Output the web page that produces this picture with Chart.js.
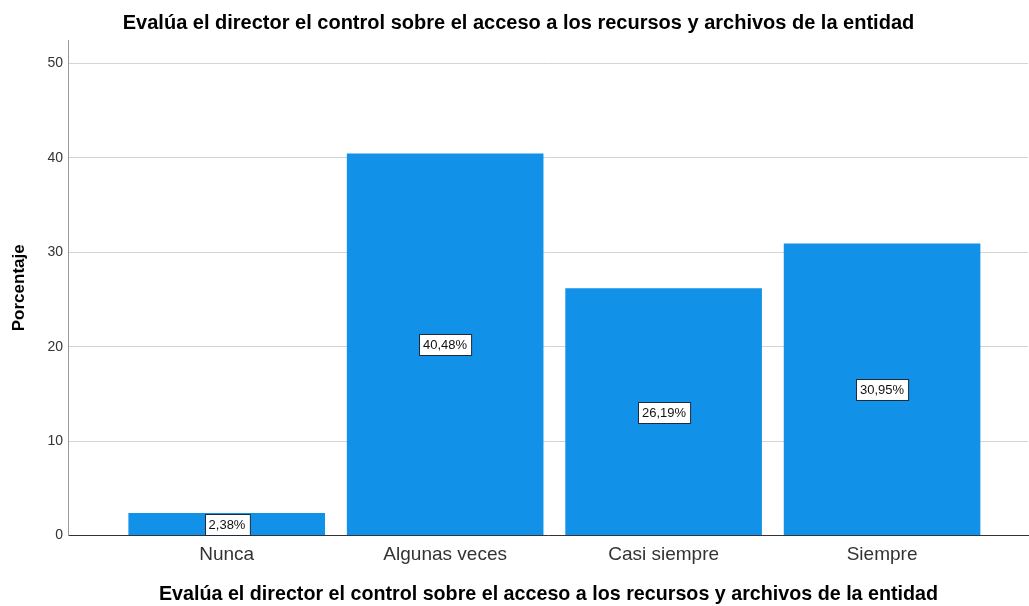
<!DOCTYPE html>
<html>
<head>
<meta charset="utf-8">
<title>Evalúa el director el control</title>
<script src="https://cdn.jsdelivr.net/npm/chart.js@4.4.1/dist/chart.umd.min.js"></script>
<style>
  body { margin: 0; background: #fff; }
  #wrap { width: 1029px; height: 606px; }
</style>
</head>
<body>
<div id="wrap"><canvas id="barChart" width="1029" height="606"></canvas></div>
<script>
// Chart data
const chartTitle = 'Evalúa el director el control sobre el acceso a los recursos y archivos de la entidad';
const categories = ['Nunca', 'Algunas veces', 'Casi siempre', 'Siempre'];
const percentages = [2.38, 40.48, 26.19, 30.95];
const yTicks = [0, 10, 20, 30, 40, 50];

const barColor = '#1192e8';
const fontFamily = '"Liberation Sans", Arial, sans-serif';

// Value labels in white boxes, centered in each bar
const boxLabels = {
    id: 'boxLabels',
    afterDatasetsDraw(chart) {
        const ctx = chart.ctx;
        const meta = chart.getDatasetMeta(0);
        ctx.save();
        ctx.font = '13px ' + fontFamily;
        ctx.textAlign = 'center';
        ctx.textBaseline = 'middle';
        meta.data.forEach((bar, i) => {
            const text = percentages[i].toFixed(2).replace('.', ',') + '%';
            const w = ctx.measureText(text).width + 8;
            const h = 21;
            const cx = Math.round(bar.x);
            const cy = Math.round((bar.y + bar.base) / 2);
            const x0 = Math.round(cx - w / 2) + 0.5;
            const y0 = Math.round(cy - h / 2) + 0.5;
            ctx.fillStyle = '#ffffff';
            ctx.fillRect(x0, y0, w, h);
            ctx.strokeStyle = '#1d2b3a';
            ctx.lineWidth = 1;
            ctx.strokeRect(x0, y0, w, h);
            ctx.fillStyle = '#111';
            ctx.fillText(text, cx, cy + 1);
        });
        ctx.restore();
    }
};

const ctx = document.getElementById('barChart').getContext('2d');
new Chart(ctx, {
    type: 'bar',
    data: {
        datasets: [{
            data: percentages.map((v, i) => ({ x: i + 1, y: v })),
            backgroundColor: barColor,
            borderWidth: 0,
            categoryPercentage: 1,
            barPercentage: 0.9
        }]
    },
    options: {
        responsive: false,
        animation: false,
        layout: { padding: { top: 9, right: 1, bottom: 0, left: 9 } },
        plugins: {
            legend: { display: false },
            tooltip: { enabled: false },
            title: {
                display: true,
                text: chartTitle,
                color: '#000',
                font: { family: fontFamily, size: 20, weight: 'bold' },
                padding: { top: 2, bottom: 5 }
            }
        },
        scales: {
            x: {
                type: 'linear',
                offset: false,
                min: 0.278,
                max: 4.668,
                afterBuildTicks: scale => {
                    scale.ticks = categories.map((c, i) => ({ value: i + 1 }));
                },
                ticks: {
                    callback: v => categories[v - 1],
                    color: '#333',
                    font: { family: fontFamily, size: 19 },
                    padding: 0,
                    autoSkip: false,
                    maxRotation: 0
                },
                grid: { display: false, offset: false },
                border: { display: true, color: '#333', width: 1 },
                title: {
                    display: true,
                    text: chartTitle,
                    color: '#000',
                    font: { family: fontFamily, size: 19.7, weight: 'bold' },
                    padding: { top: 16, bottom: 0 }
                }
            },
            y: {
                min: 0,
                max: 52.5,
                afterBuildTicks: scale => {
                    scale.ticks = yTicks.map(v => ({ value: v }));
                },
                ticks: {
                    color: '#333',
                    font: { family: fontFamily, size: 14 },
                    padding: 6
                },
                grid: { color: '#d4d4d4', drawTicks: false },
                border: { display: true, color: '#999', width: 1 },
                title: {
                    display: true,
                    text: 'Porcentaje',
                    color: '#000',
                    font: { family: fontFamily, size: 17, weight: 'bold' },
                    padding: { top: 0, bottom: 12 }
                }
            }
        }
    },
    plugins: [boxLabels]
});
</script>
</body>
</html>
